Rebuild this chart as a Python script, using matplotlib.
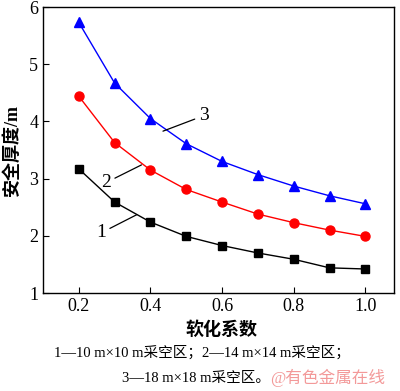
import matplotlib.pyplot as plt
import numpy as np

plt.rcParams['font.family'] = ['Liberation Serif', 'Noto Sans CJK SC']
plt.rcParams['mathtext.fontset'] = 'stix'

x = [0.2, 0.3, 0.4, 0.5, 0.6, 0.7, 0.8, 0.9, 1.0]
y1 = [3.17, 2.59, 2.24, 1.99, 1.83, 1.70, 1.59, 1.44, 1.42]
y2 = [4.44, 3.63, 3.15, 2.81, 2.59, 2.38, 2.23, 2.10, 1.99]
y3 = [5.73, 4.67, 4.05, 3.61, 3.30, 3.07, 2.87, 2.70, 2.56]

fig = plt.figure(figsize=(4, 3.91), dpi=100)
ax = fig.add_axes([0.1075, 0.2506, 0.8775, 0.7314])

ax.plot(x, y1, color='black', lw=1.0, marker='s', ms=6)
ax.plot(x, y2, color='red', lw=1.0, marker='o', ms=6.5)
ax.plot(x, y3, color='blue', lw=1.0, marker='^', ms=7.5)

ax.set_xlim(0.1, 1.08)
ax.set_ylim(1, 6)
ax.set_xticks([0.2, 0.4, 0.6, 0.8, 1.0])
ax.set_xticklabels(['0.2', '0.4', '0.6', '0.8', '1.0'])
ax.set_yticks([1, 2, 3, 4, 5, 6])
ax.tick_params(direction='in', length=4, labelsize=13, top=False, right=False)
for s in ax.spines.values():
    s.set_linewidth(1.0)

# curve labels with leader lines
arrow = dict(arrowstyle='-', color='black', lw=0.9, shrinkA=1, shrinkB=0)
ax.annotate('3', xy=(0.435, 3.83), xytext=(0.535, 4.1), fontsize=14,
            va='center', ha='left', arrowprops=arrow)
ax.annotate('2', xy=(0.375, 3.24), xytext=(0.262, 2.93), fontsize=14,
            va='center', ha='left', arrowprops=arrow)
ax.annotate('1', xy=(0.362, 2.37), xytext=(0.248, 2.05), fontsize=14,
            va='center', ha='left', arrowprops=arrow)

ax.set_ylabel('安全厚度/m', fontsize=13, fontweight='bold', labelpad=6)
fig.text(0.555, 0.155, '软化系数', fontsize=13, fontweight='bold', ha='center', va='center')

fig.text(0.505, 0.098, '1—10 m×10 m采空区；2—14 m×14 m采空区；', fontsize=10.5,
         ha='center', va='center')
fig.text(0.49, 0.033, '3—18 m×18 m采空区。', fontsize=10.5, ha='center', va='center')
fig.text(0.82, 0.033, '@有色金属在线', fontsize=12, ha='center', va='center',
         color='#f08080', alpha=0.8)

fig.savefig('out.png', dpi=100)
